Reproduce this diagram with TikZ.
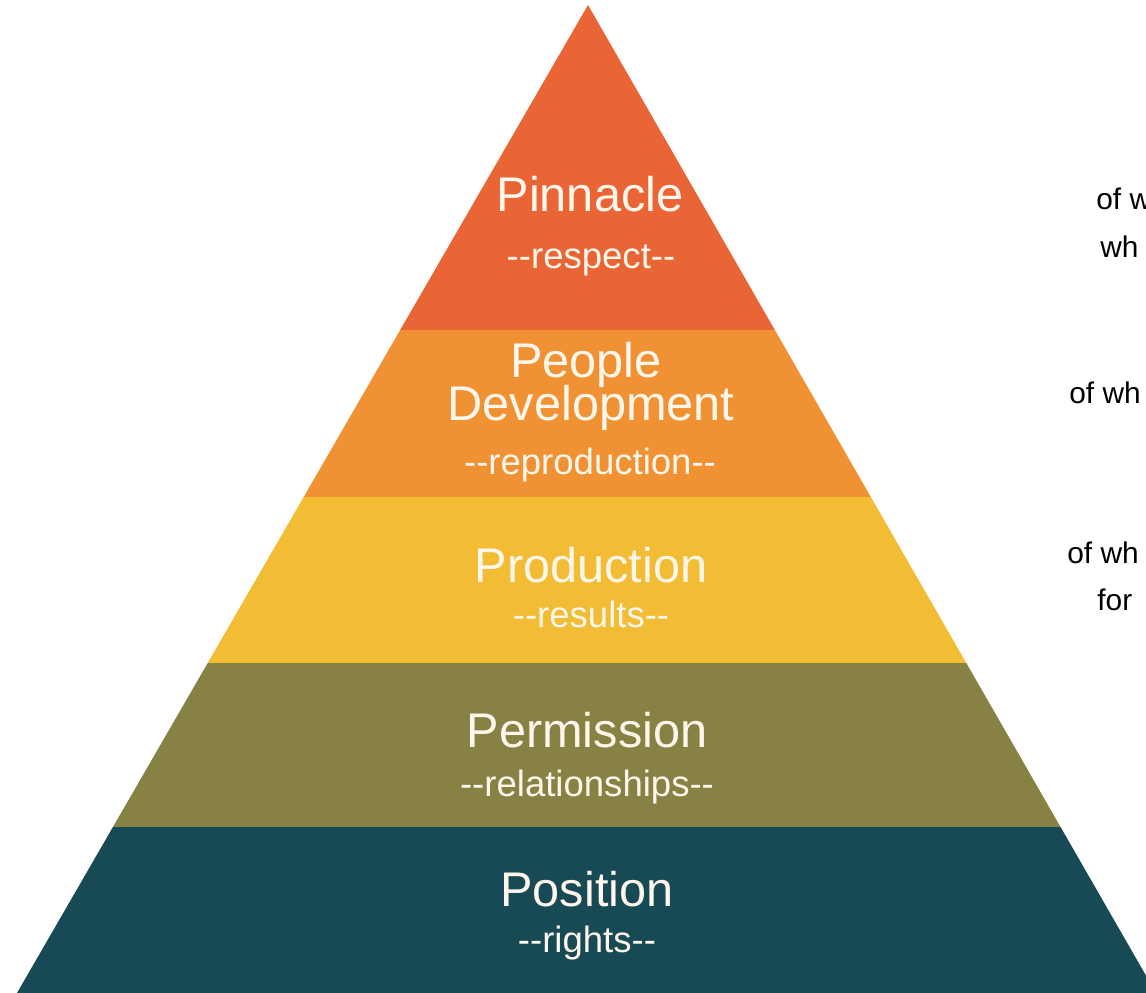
\documentclass[tikz,border=0pt]{standalone}
\usepackage{fontspec}
\setmainfont{Liberation Sans}
\usepackage{tikz}
\usetikzlibrary{positioning,calc}

\definecolor{pinnacleC}{RGB}{234,101,54}
\definecolor{peopleC}{RGB}{240,146,52}
\definecolor{productionC}{RGB}{242,188,52}
\definecolor{permissionC}{RGB}{135,130,68}
\definecolor{positionC}{RGB}{24,74,85}
\definecolor{labelC}{RGB}{255,247,236}

\begin{document}
\begin{tikzpicture}[x=0.02cm,y=-0.02cm,
	title/.style={anchor=base,text=labelC,inner sep=0pt,font=\fontsize{27.7}{30}\selectfont},
	sub/.style={anchor=base,text=labelC,inner sep=0pt,font=\fontsize{20.8}{24}\selectfont},
	side/.style={anchor=base west,text=black,inner sep=0pt,font=\fontsize{17}{20}\selectfont}]
	\useasboundingbox (0,0) rectangle (1146,993);
	
	% pyramid bands
	\begin{scope}
		\clip (588,5) -- (17,993) -- (1156,993) -- cycle;
		\fill[pinnacleC] (0,0) rectangle (1146,330);
		\fill[peopleC] (0,330) rectangle (1146,497);
		\fill[productionC] (0,497) rectangle (1146,663);
		\fill[permissionC] (0,663) rectangle (1146,827);
		\fill[positionC] (0,827) rectangle (1146,993);
	\end{scope}
	
	\node[title] (pin) at (590,212) {Pinnacle};
	\node[sub] (pinsub) at (591,269) {-{}-respect-{}-};
	
	\node[title] (peo) at (586,377) {People};
	\node[title] (dev) at (591,420) {Development};
	\node[sub] (devsub) at (590,474) {-{}-reproduction-{}-};
	
	\node[title] (prod) at (591,582) {Production};
	\node[sub] (prodsub) at (591,627) {-{}-results-{}-};
	
	\node[title] (perm) at (587,747) {Permission};
	\node[sub] (permsub) at (587,796) {-{}-relationships-{}-};
	
	\node[title] (pos) at (587,906) {Position};
	\node[sub] (possub) at (587,952) {-{}-rights-{}-};
	
	% cut-off notes on the right
	\node[side] (n1) at (1096,210) {of w};
	\node[side] (n2) at (1100,257) {wh};
	\node[side] (n3) at (1069,403) {of wh};
	\node[side] (n4) at (1067,563) {of wh};
	\node[side] (n5) at (1097,610) {for};
\end{tikzpicture}
\end{document}
